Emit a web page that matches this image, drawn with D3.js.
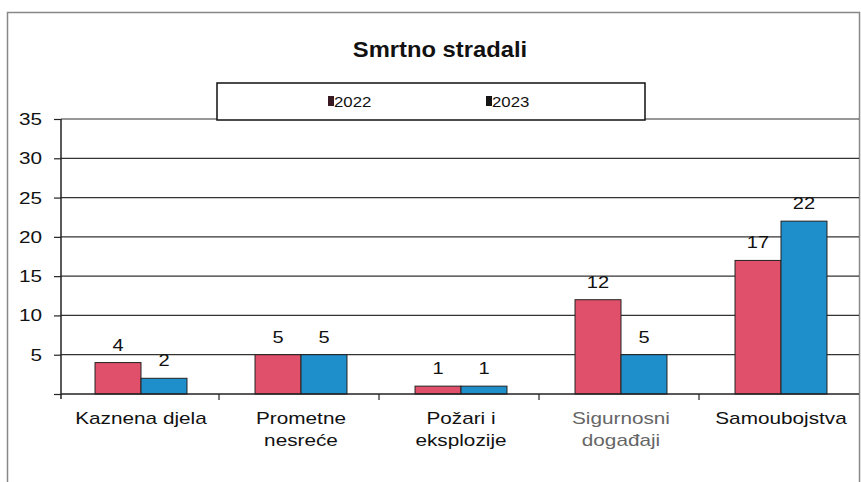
<!DOCTYPE html>
<html><head><meta charset="utf-8">
<script src="https://cdn.jsdelivr.net/npm/d3@7"></script>
<style>body{margin:0;background:#fff}svg{display:block;font-family:"Liberation Sans",Arial,sans-serif}</style>
</head><body><svg id="c" width="861" height="482"></svg>
<script>
const categories = [["Kaznena djela"],["Prometne","nesreće"],["Požari i","eksplozije"],["Sigurnosni","događaji"],["Samoubojstva"]];
const categoryKeys = ["Kaznena djela","Prometne nesreće","Požari i eksplozije","Sigurnosni događaji","Samoubojstva"];
const series2022 = [4,5,1,12,17];
const series2023 = [2,5,1,5,22];
const seriesNames = ["2022","2023"];
const yTicks = [5,10,15,20,25,30,35];
const colors = ["#e0506a","#1f8fcc"];

(function(){
const svg = d3.select("#c");
function stretch(sel, k){
  sel.each(function(){
    const len = this.getComputedTextLength();
    d3.select(this).attr("textLength", len*k).attr("lengthAdjust","spacingAndGlyphs");
  });
}
// outer frame
svg.append("rect").attr("x",7.5).attr("y",12.5).attr("width",852).attr("height",480)
  .attr("fill","none").attr("stroke","#888").attr("stroke-width",1.5);

const pl=61, pr=859, pt=119, pb=394;
const x = d3.scaleBand().domain(categoryKeys).range([pl,pl+800]).paddingInner(0).paddingOuter(0);
const xs = d3.scaleBand().domain(seriesNames).range([0,x.bandwidth()]).paddingInner(0).paddingOuter(0.74);
const y = d3.scaleLinear().domain([0,35]).range([pb,pt]);

// gridlines
svg.append("g").selectAll("line").data(yTicks).join("line")
  .attr("x1",pl).attr("x2",pr).attr("y1",d=>y(d)).attr("y2",d=>y(d))
  .attr("stroke","#333").attr("stroke-width",1.2);

// y axis
const ya = svg.append("g").attr("transform",`translate(${pl},0)`)
  .call(d3.axisLeft(y).tickValues([0,...yTicks]).tickSize(7).tickFormat(d=>d===0?"":d));
ya.select(".domain").attr("stroke","#222").attr("stroke-width",1.5).attr("d",`M0,${pt}V${pb+5}`);
ya.selectAll(".tick line").attr("stroke","#222").attr("stroke-width",1.2);
ya.selectAll(".tick text").attr("font-size",17).attr("fill","#111").attr("x",-19).attr("font-family","Liberation Sans, Arial, sans-serif");
stretch(ya.selectAll(".tick text"),1.22);

// legend box
svg.append("rect").attr("x",217).attr("y",83).attr("width",428).attr("height",37)
  .attr("fill","#fff").attr("stroke","#111").attr("stroke-width",1.5);
const lg = svg.append("g");
[328,486].forEach((lx,i)=>{
  lg.append("rect").attr("x",lx).attr("y",96).attr("width",6).attr("height",10).attr("fill",i===0?"#3a1a22":"#151515");
  lg.append("text").attr("x",lx+6).attr("y",106.5).attr("font-size",14).attr("fill","#111").text(seriesNames[i]);
});
stretch(lg.selectAll("text"),1.2);

// bars
const data = categoryKeys.map((c,i)=>({c,vals:[series2022[i],series2023[i]]}));
const g = svg.append("g").selectAll("g").data(data).join("g").attr("transform",d=>`translate(${x(d.c)},0)`);
g.selectAll("rect").data(d=>d.vals.map((v,j)=>({v,s:seriesNames[j],j}))).join("rect")
  .attr("x",d=>xs(d.s)).attr("width",xs.bandwidth()).attr("y",d=>y(d.v)).attr("height",d=>y(0)-y(d.v))
  .attr("fill",d=>colors[d.j]).attr("stroke","#222").attr("stroke-width",1);
g.selectAll("text").data(d=>d.vals.map((v,j)=>({v,s:seriesNames[j],j}))).join("text")
  .attr("x",d=>xs(d.s)+xs.bandwidth()/2).attr("y",d=>y(d.v)-12).attr("text-anchor","middle")
  .attr("font-size",17).attr("fill","#111").text(d=>d.v);
stretch(g.selectAll("text"),1.18);

// x axis
svg.append("line").attr("x1",pl).attr("x2",pr).attr("y1",pb).attr("y2",pb).attr("stroke","#222").attr("stroke-width",1.5);
svg.append("g").selectAll("line").data(categoryKeys.slice(1)).join("line")
  .attr("x1",d=>x(d)-2).attr("x2",d=>x(d)-2).attr("y1",pb).attr("y2",pb+6).attr("stroke","#222").attr("stroke-width",1.2);
const xl = svg.append("g");
xl.selectAll("text").data(categoryKeys).join("text")
  .attr("text-anchor","middle").attr("font-size",17)
  .attr("fill",(d,i)=>i===3?"#666":"#111")
  .each(function(d,i){
    const t=d3.select(this);
    categories[i].forEach((line,k)=>t.append("tspan").attr("x",x(d)+x.bandwidth()/2).attr("y",424+k*22).text(line));
  });
stretch(xl.selectAll("tspan"),1.22);

// title
const tt = svg.append("text").attr("x",440).attr("y",57).attr("text-anchor","middle").attr("font-size",22).attr("font-weight","bold").attr("fill","#111").text("Smrtno stradali");
stretch(tt,1.08);
})();
</script></body></html>
